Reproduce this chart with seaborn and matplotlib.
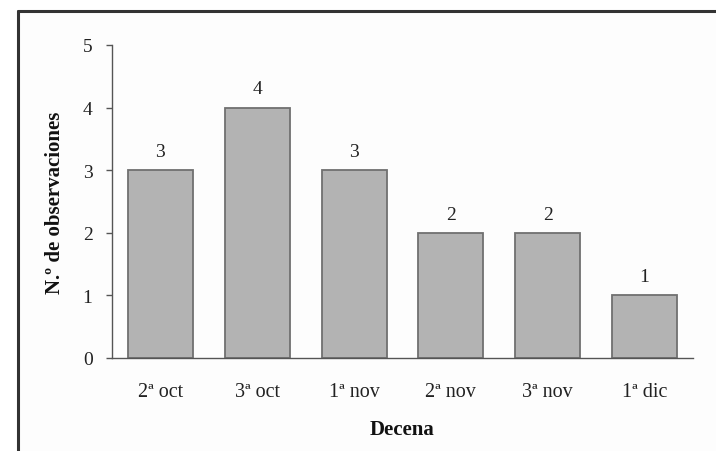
import matplotlib
matplotlib.use("Agg")
import matplotlib.pyplot as plt
from matplotlib.lines import Line2D
import numpy as np
import pandas as pd
import seaborn as sns

decenas = ["2ª oct", "3ª oct", "1ª nov", "2ª nov", "3ª nov", "1ª dic"]
observaciones = [3, 4, 3, 2, 2, 1]
y_ticks = [0, 1, 2, 3, 4, 5]

sns.set_style("white")
plt.rcParams["font.family"] = ["Liberation Serif", "DejaVu Serif"]

df = pd.DataFrame({"Decena": decenas, "obs": observaciones})

fig = plt.figure(figsize=(7.16, 4.52), dpi=100)
fig.patch.set_facecolor("white")

# framed panel background and border (top and left edges visible)
fig.patches.append(plt.Rectangle((18 / 716, 0), 1, 1 - 12 / 452, transform=fig.transFigure,
                                 facecolor="#fdfdfd", edgecolor="none", zorder=-10))
fig.lines.append(Line2D([18 / 716, 1.0], [1 - 12 / 452, 1 - 12 / 452], transform=fig.transFigure,
                        color="#333333", lw=2.2, zorder=-5))
fig.lines.append(Line2D([18 / 716, 18 / 716], [0, 1 - 12 / 452], transform=fig.transFigure,
                        color="#333333", lw=2.2, zorder=-5))

ax = fig.add_axes([112 / 716, 1 - 359 / 452, (693 - 112) / 716, (359 - 46) / 452])
ax.set_facecolor("none")

sns.barplot(data=df, x="Decena", y="obs", ax=ax, color="#b3b3b3",
            edgecolor="#707070", linewidth=1.3, width=0.67, saturation=1)

for i, v in enumerate(observaciones):
    ax.text(i, v + 0.3, str(v), ha="center", va="center", fontsize=14, color="#222222")

ax.set_xlim(-0.5, len(decenas) - 0.5)
ax.set_ylim(0, 5)
ax.set_yticks(y_ticks)
ax.set_yticklabels([str(t) for t in y_ticks], fontsize=14, color="#222222")
ax.set_xticks(range(len(decenas)))
ax.set_xticklabels(decenas, fontsize=14.5, color="#222222")
ax.set_xticks(np.arange(-0.5, len(decenas), 1.0), minor=True)
ax.tick_params(axis="x", which="major", length=0, pad=17)
ax.tick_params(axis="x", which="minor", length=4, width=1, color="#555555", direction="out")
ax.tick_params(axis="y", length=4, width=1, color="#555555", direction="out", pad=10, left=True)

for side in ["top", "right"]:
    ax.spines[side].set_visible(False)
for side in ["left", "bottom"]:
    ax.spines[side].set_color("#555555")
    ax.spines[side].set_linewidth(1.0)

ax.set_xlabel("Decena", fontsize=15, fontweight="bold", color="#111111", labelpad=13)
ax.set_ylabel("N.º de observaciones", fontsize=15, fontweight="bold", color="#111111", labelpad=13)

fig.savefig("out.png", dpi=100)
